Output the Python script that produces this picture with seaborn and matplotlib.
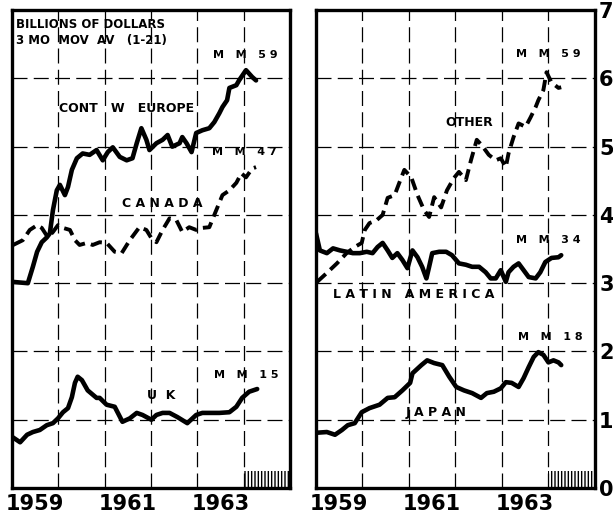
import seaborn as sns
import matplotlib.pyplot as plt
import pandas as pd

sns.set_style("white")
plt.rcParams['font.family'] = ['DejaVu Sans']
plt.rcParams['text.color'] = 'black'
plt.rcParams['xtick.color'] = 'black'
plt.rcParams['ytick.color'] = 'black'

# x = months since Jan 1959, values in billions of dollars
europe_m = [0, 4.1, 5.4, 6.5, 7.7, 9.0, 9.8, 10.6, 11.6, 12.4, 13.7, 14.5, 15.5, 16.8, 18.3, 20.1, 21.9, 23.5,
            24.8, 26.1, 27.9, 29.7, 31.2, 32.3, 33.5, 34.8, 35.6, 37.4, 39.0, 40.3, 41.5, 43.4, 44.1, 45.2,
            46.5, 47.7, 49.3, 51.1, 52.4, 53.7, 54.5, 55.7, 56.3, 58.1, 58.8, 60.6, 62.2, 63.2]
europe_v = [3.02, 3.0, 3.24, 3.46, 3.6, 3.67, 3.73, 4.07, 4.36, 4.44, 4.29, 4.41, 4.66, 4.83, 4.9, 4.88, 4.95, 4.8,
            4.92, 4.99, 4.85, 4.8, 4.83, 5.05, 5.27, 5.1, 4.95, 5.05, 5.1, 5.17, 5.0, 5.05, 5.14, 5.05,
            4.92, 5.2, 5.24, 5.27, 5.36, 5.49, 5.58, 5.68, 5.86, 5.9, 5.97, 6.12, 6.02, 5.97]

canada_m = [0.3, 2.8, 4.6, 6.5, 7.7, 9.3, 10.6, 11.9, 13.2, 15.0, 16.3, 17.5, 19.4, 20.9, 22.7, 24.5, 26.6, 28.4,
            30.5, 33.0, 34.8, 36.1, 37.4, 39.0, 40.8, 42.6, 44.1, 45.9, 47.7, 49.3, 51.1, 52.9, 54.5, 56.3,
            58.1, 59.4, 60.6, 62.2, 63.2]
canada_v = [3.56, 3.63, 3.78, 3.85, 3.81, 3.67, 3.75, 3.85, 3.81, 3.78, 3.63, 3.56, 3.59, 3.56, 3.6, 3.59, 3.46, 3.44,
            3.63, 3.82, 3.78, 3.66, 3.6, 3.78, 3.95, 3.92, 3.75, 3.82, 3.78, 3.81, 3.82, 4.07, 4.29, 4.36,
            4.47, 4.61, 4.55, 4.68, 4.70]

uk_m = [0, 2.1, 3.9, 5.4, 7.2, 9.0, 10.6, 11.9, 13.2, 14.5, 15.5, 16.3, 17.0, 18.1, 19.6, 21.9, 22.7, 24.5, 26.6,
        28.6, 30.5, 32.3, 33.8, 36.1, 37.4, 39.0, 40.8, 42.8, 45.4, 47.7, 49.3, 51.1, 53.7, 56.3, 58.1, 59.6,
        61.4, 63.5]
uk_v = [0.75, 0.67, 0.78, 0.82, 0.85, 0.92, 0.95, 1.02, 1.11, 1.17, 1.33, 1.54, 1.63, 1.58, 1.43, 1.32, 1.32, 1.22,
        1.19, 0.97, 1.02, 1.1, 1.07, 1.0, 1.07, 1.1, 1.1, 1.04, 0.95, 1.07, 1.1, 1.1, 1.1, 1.11, 1.19, 1.32,
        1.41, 1.45]

other_m = [0.3, 2.8, 5.4, 7.9, 10.0, 11.8, 12.6, 13.8, 15.6, 17.2, 18.5, 20.3, 21.5, 22.8, 24.6, 26.2, 27.9, 29.2,
           30.5, 32.3, 33.8, 35.6, 36.9, 38.7, 40.0, 41.5, 42.8, 44.6, 46.4, 47.7, 49.0, 49.7, 51.0, 52.3,
           54.1, 55.4, 56.7, 57.4, 58.7, 59.5, 60.8, 62.6, 63.3]
other_v = [3.02, 3.15, 3.29, 3.44, 3.53, 3.59, 3.78, 3.88, 3.92, 4.0, 4.25, 4.29, 4.47, 4.66, 4.55, 4.29, 4.07, 3.97,
           4.26, 4.11, 4.36, 4.54, 4.63, 4.51, 4.8, 5.1, 5.02, 4.88, 4.8, 4.83, 4.7, 4.9, 5.14, 5.34,
           5.29, 5.43, 5.58, 5.68, 5.83, 6.09, 5.94, 5.86, 5.87]

latin_m = [0, 1.0, 2.8, 4.4, 6.2, 7.9, 9.5, 11.3, 13.1, 14.6, 15.9, 17.2, 18.5, 19.7, 21.0, 22.3, 23.6, 24.9,
           26.2, 27.4, 28.5, 29.2, 30.0, 31.8, 33.6, 35.1, 36.9, 38.7, 40.3, 42.1, 43.8, 45.1, 46.4, 47.7,
           49.0, 49.7, 51.0, 52.3, 53.6, 54.9, 56.7, 57.9, 59.2, 60.8, 62.6, 63.3]
latin_v = [3.73, 3.48, 3.44, 3.51, 3.48, 3.46, 3.44, 3.44, 3.46, 3.44, 3.53, 3.59, 3.48, 3.37, 3.44, 3.34, 3.22, 3.48,
           3.38, 3.24, 3.07, 3.24, 3.44, 3.46, 3.46, 3.41, 3.29, 3.27, 3.24, 3.24, 3.16, 3.07, 3.07, 3.19,
           3.02, 3.16, 3.24, 3.29, 3.19, 3.09, 3.07, 3.16, 3.31, 3.37, 3.38, 3.41]

japan_m = [0.3, 2.8, 4.9, 6.7, 8.2, 10.0, 11.8, 13.8, 16.4, 18.5, 20.3, 22.3, 24.3, 24.9, 27.2, 28.7, 30.5, 32.6,
           34.4, 36.2, 38.2, 40.3, 42.6, 44.1, 45.9, 47.7, 49.0, 50.5, 52.3, 53.6, 54.9, 56.2, 57.4, 58.7,
           60.0, 61.3, 62.6, 63.3]
japan_v = [0.81, 0.82, 0.78, 0.85, 0.92, 0.95, 1.11, 1.17, 1.22, 1.32, 1.33, 1.43, 1.54, 1.68, 1.8, 1.87, 1.83, 1.8,
           1.63, 1.48, 1.43, 1.39, 1.32, 1.39, 1.41, 1.46, 1.55, 1.54, 1.48, 1.61, 1.77, 1.92, 1.99, 1.95,
           1.84, 1.87, 1.84, 1.8]

year_ticks = [6, 30, 54]
year_labels = ['1959', '1961', '1963']
y_ticks = [0, 1, 2, 3, 4, 5, 6, 7]

fig = plt.figure(figsize=(6.13, 5.15), dpi=100)
ax1 = fig.add_axes([0.0196, 0.0524, 0.4535, 0.928])
ax2 = fig.add_axes([0.5155, 0.0524, 0.455, 0.928])

solid = dict(color='black', linewidth=3.3, estimator=None, errorbar=None)
dashed = dict(color='black', linewidth=2.8, linestyle=(0, (3, 1.6)), estimator=None, errorbar=None)

sns.lineplot(x=europe_m, y=europe_v, ax=ax1, **solid)
sns.lineplot(x=canada_m, y=canada_v, ax=ax1, **dashed)
sns.lineplot(x=uk_m, y=uk_v, ax=ax1, **solid)

sns.lineplot(x=other_m, y=other_v, ax=ax2, **dashed)
sns.lineplot(x=latin_m, y=latin_v, ax=ax2, **solid)
sns.lineplot(x=japan_m, y=japan_v, ax=ax2, **solid)

for ax in (ax1, ax2):
    ax.set_xlim(0, 72)
    ax.set_ylim(0, 7)
    ax.set_xticks(year_ticks)
    ax.set_xticklabels(year_labels, fontsize=15, fontweight='bold')
    ax.set_xticks([12, 24, 36, 48, 60], minor=True)
    ax.set_yticks(y_ticks)
    ax.grid(False)
    ax.grid(True, which='minor', axis='x', color='black', linewidth=0.9, linestyle=(0, (12, 5)))
    ax.grid(True, which='major', axis='y', color='black', linewidth=0.9, linestyle=(0, (12, 5)))
    ax.tick_params(axis='x', which='both', length=0, pad=4)
    for s in ax.spines.values():
        s.set_visible(True)
        s.set_color('black')
        s.set_linewidth(2.4)
    # hatched strip marking the latest period
    ax.fill_between([60, 72], 0, 0.25, hatch='|||||', facecolor='none', edgecolor='black', linewidth=0)
    ax.set_xlabel('')
    ax.set_ylabel('')

ax1.tick_params(axis='y', length=0, labelleft=False)
ax2.yaxis.tick_right()
ax2.tick_params(axis='y', length=0, pad=3, labelsize=15)
for t in ax2.get_yticklabels():
    t.set_fontweight('bold')

lab = dict(fontsize=9, fontweight='bold', ha='center', va='center')
mm = dict(fontsize=8, fontweight='bold', ha='center', va='center')

ax1.text(1, 6.88, 'BILLIONS OF DOLLARS', fontsize=8.5, fontweight='bold', ha='left', va='top')
ax1.text(1, 6.65, '3 MO  MOV  AV   (1-21)', fontsize=8.5, fontweight='bold', ha='left', va='top')
ax1.text(29.7, 5.56, 'CONT   W   EUROPE', **lab)
ax1.text(39.0, 4.16, 'C A N A D A', **lab)
ax1.text(38.7, 1.35, 'U  K', **lab)
ax1.text(60.4, 6.34, 'M   M   5 9', **mm)
ax1.text(60.1, 4.92, 'M   M   4 7', **mm)
ax1.text(60.6, 1.65, 'M   M   1 5', **mm)

ax2.text(39.5, 5.36, 'OTHER', **lab)
ax2.text(25.1, 2.84, 'L A T I N   A M E R I C A', **lab)
ax2.text(31.0, 1.11, 'J A P A N', **lab)
ax2.text(60.0, 6.35, 'M   M   5 9', **mm)
ax2.text(60.0, 3.63, 'M   M   3 4', **mm)
ax2.text(60.5, 2.21, 'M   M   1 8', **mm)

fig.savefig('out.png', dpi=100)
